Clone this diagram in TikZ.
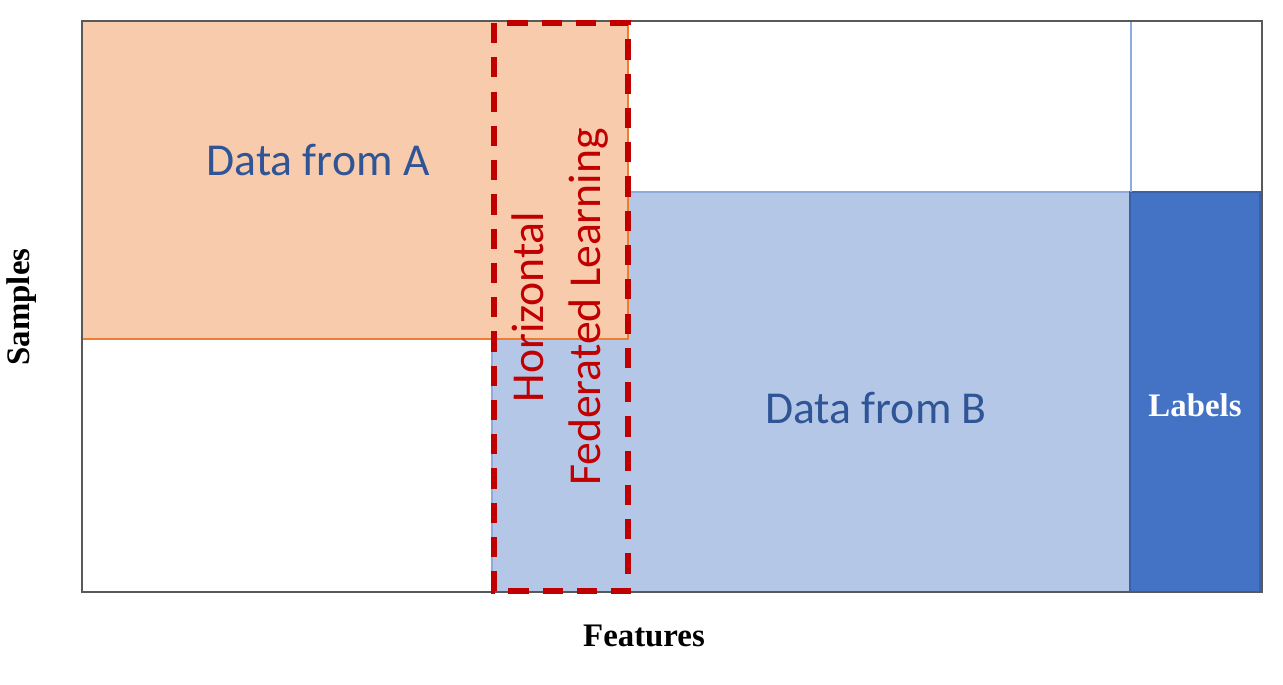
\documentclass[tikz,border=0pt]{standalone}
\usepackage{fontspec}
\setmainfont{Liberation Serif}
\newfontfamily\calfont{Carlito}
\usetikzlibrary{positioning}
\definecolor{peach}{HTML}{F8CBAD}
\definecolor{peachline}{HTML}{ED7D31}
\definecolor{paleblue}{HTML}{B4C7E7}
\definecolor{palebluel}{HTML}{8FAADC}
\definecolor{midblue}{HTML}{4472C4}
\definecolor{darkblue}{HTML}{2F5597}
\definecolor{hflred}{HTML}{C00000}
\begin{document}
\begin{tikzpicture}[x=0.02cm,y=-0.02cm]
    \tikzset {
      partA/.style={fill=peach,draw=peachline,line width=0.6pt},
      partB/.style={fill=paleblue,draw=palebluel,line width=0.6pt},
      labelcol/.style={fill=midblue,draw=midblue!85!black,line width=0.6pt},
      hflbox/.style={draw=hflred,line width=3.2pt,dash pattern=on 11.5pt off 8pt},
      datatext/.style={font=\calfont\fontsize{26}{32}\selectfont,text=darkblue},
      axistext/.style={font=\bfseries\fontsize{18.7}{22}\selectfont}
    }
    \useasboundingbox (0,0) rectangle (1283,684);
    % feature space of party B, labels on the right
    \draw [partB] (492,192) rectangle (1130,592);
    \draw [labelcol] (1130,192) rectangle (1260,592);
    % party A overlaps B on the shared samples
    \draw [partA] (82,21) rectangle (628,339);
    \draw [palebluel,line width=0.6pt] (1131,21) -- (1131,192);
    \draw [gray!70!black,line width=0.8pt] (82,21) rectangle (1262,592);
    \draw [hflbox] (494,23) rectangle (628,591);
    \node [datatext] (a) at (318,160) {Data from A};
    \node [datatext] (b) at (876,408) {Data from B};
    \node [datatext,text=hflred,rotate=90,align=center] (h) at (560,307) {Horizontal\\Federated Learning};
    \node [axistext,text=white] (l) at (1195,405) {Labels};
    \node [axistext,rotate=90] (s) at (22,307) {Samples};
    \node [axistext] (f) at (644,636) {Features};
  \end{tikzpicture}
\end{document}
